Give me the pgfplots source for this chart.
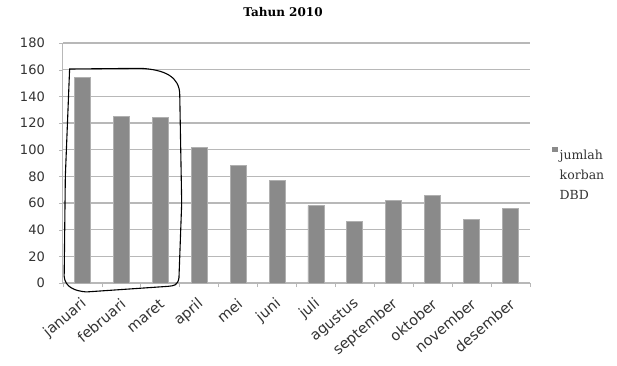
\documentclass[border=0pt]{standalone}
\usepackage{fontspec}
\usepackage{pgfplots}
\pgfplotsset{compat=1.18}
\setmainfont{DejaVu Serif}
\newfontfamily\tickfont{DejaVu Sans}
\definecolor{barfill}{HTML}{8A8A8A}
\definecolor{baredge}{HTML}{B0B0B0}
\definecolor{gridc}{HTML}{B8B8B8}
\begin{document}
\begin{tikzpicture}
\path[use as bounding box] (-63pt,-82pt) rectangle (554pt,283pt);
\begin{axis}[
  at={(0,0)}, anchor=south west,
  scale only axis, width=467pt, height=240pt,
  xmin=-0.5, xmax=11.5, ymin=0, ymax=180,
  clip=false,
  axis x line*=bottom, axis y line*=left,
  axis line style={gridc, line width=1pt},
  ytick={0,20,...,180},
  xtick={0,...,11},
  xticklabels={januari,februari,maret,april,mei,juni,juli,agustus,september,oktober,november,desember},
  major x tick style={draw=none},
  major y tick style={gridc},
  tick align=outside, major tick length=4pt,
  ymajorgrids, major grid style={gridc, line width=1.3pt},
  /pgf/number format/assume math mode=true,
  ticklabel style={font=\tickfont\fontsize{13}{15}\selectfont, text=black!80},
  yticklabel style={anchor=east, inner sep=0pt, xshift=-14pt},
  xticklabel style={font=\tickfont\fontsize{14.5}{16}\selectfont, anchor=east, inner sep=0pt, xshift=2pt, yshift=-15pt, rotate=40},
  extra x ticks={-0.5,0.5,...,11.5},
  extra x tick labels={},
  extra x tick style={grid=none, major tick length=4pt, major x tick style={draw=gridc, line width=0.8pt}},
  title={Tahun 2010},
  title style={font=\bfseries\fontsize{12}{14}\selectfont, at={(axis description cs:0.471,1)}, anchor=center, yshift=25pt},
  legend style={draw=none, fill=none, at={(axis description cs:1.04,0.59)}, anchor=north west,
    font=\fontsize{12.5}{20}\selectfont, text=black!80},
  legend image code/.code={\fill[barfill] (0pt,2pt) rectangle (5pt,6pt);},
]
\addplot[ybar, bar width=16pt, fill=barfill, draw=baredge, line width=0.8pt]
  coordinates {(0,154) (1,125) (2,124) (3,102) (4,88) (5,77) (6,58) (7,46) (8,62) (9,66) (10,48) (11,56)};
\addlegendentry{\begin{tabular}[t]{@{}l@{}}jumlah\\korban\\DBD\end{tabular}}
\draw[black, line width=1.1pt]
  (axis cs:-0.47,5) -- (axis cs:-0.44,80) -- (axis cs:-0.33,160.5) -- (axis cs:1.5,161)
  .. controls (axis cs:2.1,160) and (axis cs:2.5,155) .. (axis cs:2.5,141)
  -- (axis cs:2.55,60) -- (axis cs:2.48,4)
  .. controls (axis cs:2.45,-2) and (axis cs:2.35,-2) .. (axis cs:2.2,-2.5)
  -- (axis cs:0.1,-6.7)
  .. controls (axis cs:-0.2,-6) and (axis cs:-0.45,-3) .. cycle;
\end{axis}
\end{tikzpicture}
\end{document}
